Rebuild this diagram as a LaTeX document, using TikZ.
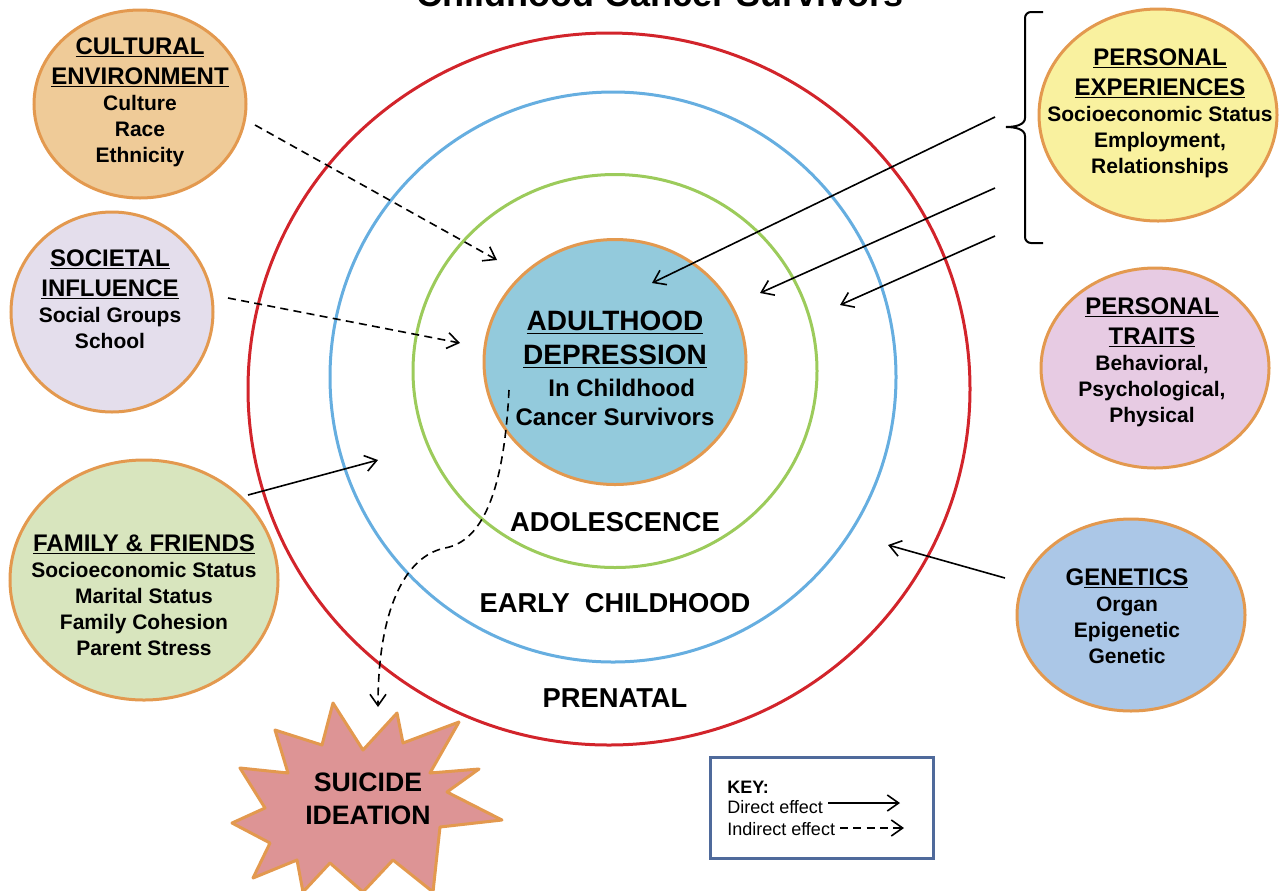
\documentclass[tikz,border=0pt]{standalone}
\usepackage{fontspec}
\setmainfont{Liberation Sans}
\usetikzlibrary{shapes.geometric,arrows.meta}
\definecolor{ringred}{HTML}{D2242B}
\definecolor{ringblue}{HTML}{66AEE0}
\definecolor{ringgreen}{HTML}{9CCB5B}
\definecolor{edgeorange}{HTML}{E3994F}
\definecolor{fcult}{HTML}{EFCB98}
\definecolor{fsoc}{HTML}{E4DEEC}
\definecolor{ffam}{HTML}{D8E5BE}
\definecolor{fexp}{HTML}{F9F19F}
\definecolor{ftrait}{HTML}{E7CBE3}
\definecolor{fgen}{HTML}{ABC7E7}
\definecolor{fcenter}{HTML}{93CADC}
\definecolor{fsuic}{HTML}{DD9495}
\definecolor{keyedge}{HTML}{4F6A9B}
\newcommand\hd[1]{{\fontsize{18}{22.5}\selectfont\underline{#1}}}
\newcommand\chd[1]{{\fontsize{21}{25}\selectfont\underline{#1}}}
\tikzset{
  factor/.style={ellipse, draw=edgeorange, line width=2.25pt, inner sep=0pt},
  ftext/.style={align=center, anchor=north, inner sep=0pt,
    font=\fontsize{15.75}{19.5}\selectfont\bfseries},
  ring/.style={ellipse, line width=2.25pt, inner sep=0pt},
  ringlabel/.style={font=\fontsize{20.5}{24}\selectfont\bfseries, inner sep=0pt},
  direct/.style={line width=1.2pt, -{Straight Barb[length=8.5pt,width=12pt]}},
  indirect/.style={direct, dash pattern=on 6pt off 4pt},
  keytext/.style={anchor=base west, inner sep=0pt, font=\fontsize{13.5}{16}\selectfont},
}
\begin{document}
\begin{tikzpicture}[x=0.75pt,y=-0.75pt]
\useasboundingbox (0,0) rectangle (1281,890);
% title (cut off at top, as in the reference)
\node[anchor=base, inner sep=0pt, font=\fontsize{27}{32}\selectfont\bfseries] (title) at (660,6) {Childhood Cancer Survivors};

% rings
\node[ring, draw=ringred, minimum width=541.5pt, minimum height=534pt] (prenatal) at (609,389) {};
\node[ring, draw=ringblue, minimum width=424.5pt, minimum height=427.5pt] (early) at (613,377) {};
\node[ring, draw=ringgreen, minimum width=303pt, minimum height=294.75pt] (adol) at (615,371) {};
\node[factor, fill=fcenter, minimum width=196.5pt, minimum height=183.75pt] (center) at (615,362) {};
\node[ftext, font=\fontsize{18}{21.75}\selectfont\bfseries] (center-t) at (615,311)
  {\chd{ADULTHOOD}\\[3.75pt]\chd{DEPRESSION}\\[2pt]\ \ In Childhood\\Cancer Survivors};

\node[ringlabel] (adol-l) at (615,522) {ADOLESCENCE};
\node[ringlabel] (early-l) at (615,603) {EARLY\ \ CHILDHOOD};
\node[ringlabel] (prenatal-l) at (615,698) {PRENATAL};

% factor ellipses
\node[factor, fill=fcult, minimum width=159pt, minimum height=141pt] (cult) at (140,104) {};
\node[ftext] (cult-t) at (140,37) {\hd{CULTURAL}\\[3pt]\hd{ENVIRONMENT}\\Culture\\Race\\Ethnicity};

\node[factor, fill=fsoc, minimum width=151.5pt, minimum height=150pt] (soc) at (112,312) {};
\node[ftext] (soc-t) at (110,249) {\hd{SOCIETAL}\\[3pt]\hd{INFLUENCE}\\Social Groups\\School};

\node[factor, fill=ffam, minimum width=201pt, minimum height=180pt] (fam) at (144,580) {};
\node[ftext] (fam-t) at (144,534) {\hd{FAMILY \& FRIENDS}\\Socioeconomic Status\\Marital Status\\Family Cohesion\\Parent Stress};

\node[factor, fill=fexp, minimum width=178.5pt, minimum height=159pt] (exp) at (1158,115) {};
\node[ftext] (exp-t) at (1160,48) {\hd{PERSONAL}\\[3pt]\hd{EXPERIENCES}\\Socioeconomic Status\\Employment,\\Relationships};

\node[factor, fill=ftrait, minimum width=171pt, minimum height=150pt] (trait) at (1155,368) {};
\node[ftext] (trait-t) at (1152,297) {\hd{PERSONAL}\\[3pt]\hd{TRAITS}\\Behavioral,\\Psychological,\\Physical};

\node[factor, fill=fgen, minimum width=171pt, minimum height=144pt] (gen) at (1131,615) {};
\node[ftext] (gen-t) at (1127,568) {{\fontsize{18}{22.5}\selectfont G\underline{ENETICS}}\\Organ\\Epigenetic\\Genetic};

% brace
\draw[line width=1.5pt] (1043,12) -- (1031,12) to[out=180,in=90] (1025,18) -- (1025,118)
  .. controls (1025,125) and (1015,127) .. (1006,127)
  .. controls (1015,127) and (1025,129) .. (1025,136) -- (1025,237)
  to[out=-90,in=180] (1031,243) -- (1043,243);

% suicide ideation star
\filldraw[fill=fsuic, draw=edgeorange, line width=2.25pt, line join=round]
  (333,703) -- (363,750) -- (397,713) -- (403,743) -- (459,722) -- (430,773)
  -- (479,769) -- (447,792) -- (502,820) -- (440,827) -- (433,892) -- (393,860)
  -- (363,892) -- (330,863) -- (303,892) -- (297,860) -- (253,878) -- (270,843)
  -- (232,823) -- (265,808) -- (240,768) -- (288,773) -- (275,730) -- (322,745) -- cycle;
\node[align=center, inner sep=0pt, font=\fontsize{20}{24.75}\selectfont\bfseries] (suic) at (368,799) {SUICIDE\\IDEATION};

% connector end points
\coordinate (c1) at (255,125);  \coordinate (c2) at (497,260);
\coordinate (s1) at (228,298);  \coordinate (s2) at (460,343);
\coordinate (f1) at (248,495);  \coordinate (f2) at (378,460);
\coordinate (e1) at (995,117);  \coordinate (e2) at (652,283);
\coordinate (e3) at (995,188);  \coordinate (e4) at (760,293);
\coordinate (e5) at (995,236);  \coordinate (e6) at (840,305);
\coordinate (g1) at (1005,578); \coordinate (g2) at (888,545);
\coordinate (d1) at (509,390);  \coordinate (d2) at (378,707);

\draw[indirect] (c1) -- (c2);
\draw[indirect] (s1) -- (s2);
\draw[direct] (f1) -- (f2);
\draw[direct] (e1) -- (e2);
\draw[direct] (e3) -- (e4);
\draw[direct] (e5) -- (e6);
\draw[direct] (g1) -- (g2);
\draw[indirect] (d1) .. controls (505,470) and (490,540) .. (445,548)
  .. controls (405,556) and (378,610) .. (d2);

% key
\node[draw=keyedge, line width=2.25pt, minimum width=167.25pt, minimum height=75.75pt, inner sep=0pt] (key) at (821.5,807.5) {};
\node[keytext, font=\fontsize{13.5}{16}\selectfont\bfseries] (key-h) at (727,793) {KEY:};
\node[keytext] (key-d) at (727,813) {Direct effect};
\node[keytext] (key-i) at (727,835) {Indirect effect};
\coordinate (kd1) at (828,803); \coordinate (kd2) at (900,803);
\coordinate (ki1) at (840,828); \coordinate (ki2) at (904,828);
\draw[direct] (kd1) -- (kd2);
\draw[indirect] (ki1) -- (ki2);
\end{tikzpicture}
\end{document}
